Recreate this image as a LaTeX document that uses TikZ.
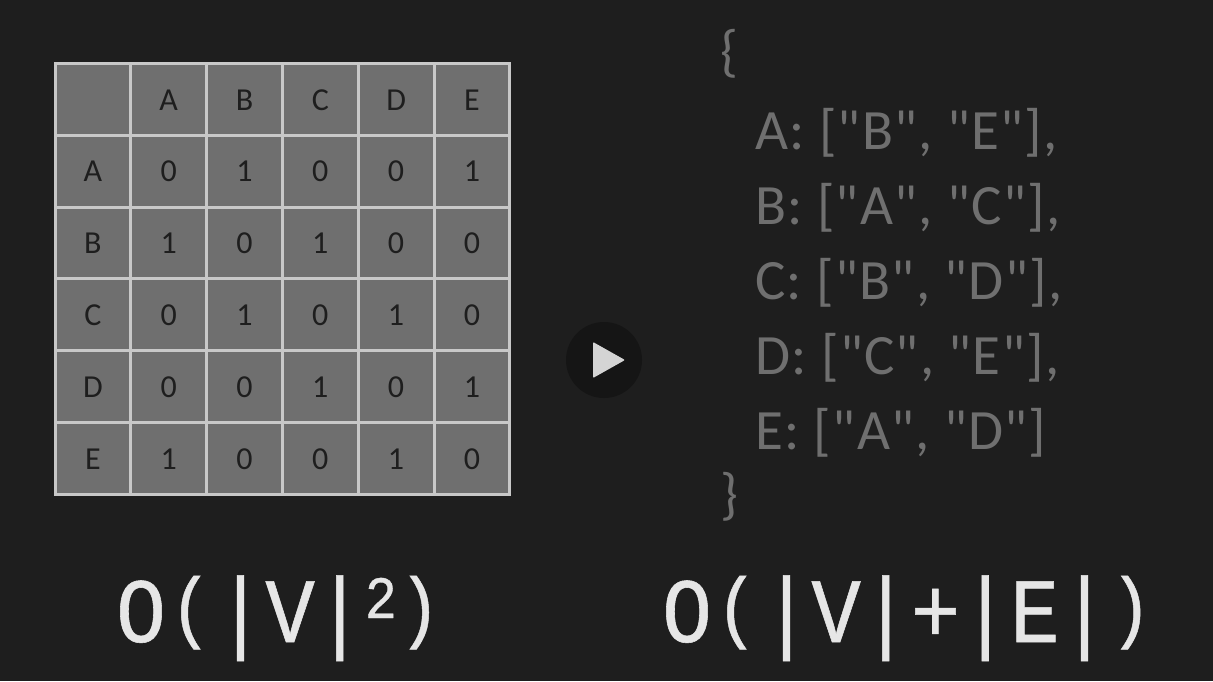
\documentclass[tikz,border=0pt]{standalone}
\usepackage{fontspec}
\setmainfont{Carlito}
\newfontfamily\listfam[LetterSpace=2.4]{Carlito}
\newfontfamily\bigomono[FakeStretch=0.9,FakeBold=0.6]{Liberation Mono}
\usetikzlibrary{positioning}
\definecolor{bgdark}{HTML}{1E1E1E}
\definecolor{cellgray}{HTML}{6F6F6F}
\definecolor{gridgray}{HTML}{C8C8C8}
\definecolor{bigowhite}{HTML}{E6E6E6}
\definecolor{btndark}{HTML}{151515}
\definecolor{btntri}{HTML}{D4D4D4}
\newcommand{\tblfont}{\fontsize{32}{32}\selectfont}
\newcommand{\listfont}{\fontsize{57}{57}\listfam\selectfont}
\newcommand{\bigofont}{\fontsize{92}{92}\bigomono\selectfont}
\newcommand{\bigoparen}[1]{\makebox[49.7pt]{\fontsize{79}{79}\selectfont\raisebox{9pt}{#1}}}
\begin{document}
\begin{tikzpicture}[
    x=1pt, y=-1pt,
    cell/.style={rectangle, draw=gridgray, fill=cellgray, line width=3pt, minimum width=75.8pt, minimum height=71.85pt, inner sep=0pt, text=bgdark, text height=21.5pt, text depth=0pt, font=\tblfont},
    listline/.style={anchor=base west, inner sep=0pt, text=cellgray, font=\listfont},
    bigo/.style={anchor=base west, inner sep=0pt, text=bigowhite, font=\bigofont}
]
    \useasboundingbox (0,0) rectangle (1213,681);
    \fill[bgdark] (0,0) rectangle (1213,681);

    % Table
    \foreach \txt [count=\k from 0] in {{},A,B,C,D,E,
                                        A,0,1,0,0,1,
                                        B,1,0,1,0,0,
                                        C,0,1,0,1,0,
                                        D,0,0,1,0,1,
                                        E,1,0,0,1,0} {
        \pgfmathtruncatemacro{\rw}{int(\k/6)}
        \pgfmathtruncatemacro{\cl}{\k-6*\rw}
        \node[cell] (cell-\rw-\cl) at ({92.9+75.8*\cl},{99.3+71.85*\rw}) {\txt};
    }

    % Play button
    \node[circle, fill=btndark, minimum size=76pt, inner sep=0pt] (playbtn) at (604,360) {};
    \fill[btntri, rounded corners=1pt] ([shift={(-11,-18)}]playbtn.center) -- ([shift={(21,0)}]playbtn.center) -- ([shift={(-11,18)}]playbtn.center) -- cycle;

    % Adjacency list
    \node[listline] (open) at (720,70) {\{};
    \node[listline] (lineA) at (755,149) {A: ["B", "E"],};
    \node[listline] (lineB) at (755,224) {B: ["A", "C"],};
    \node[listline] (lineC) at (755,299) {C: ["B", "D"],};
    \node[listline] (lineD) at (755,374) {D: ["C", "E"],};
    \node[listline] (lineE) at (755,449) {E: ["A", "D"]};
    \node[listline] (close) at (720,513) {\}};

    % Complexities
    \node[bigo] (omatrix) at (116,642) {O\bigoparen{(}|V|\raisebox{24pt}{\fontsize{60}{60}\selectfont 2}\hspace{-2.5pt}\bigoparen{)}};
    \node[bigo] (olist) at (662,642) {O\bigoparen{(}|V|+|E|\hspace{-3.5pt}\bigoparen{)}};
\end{tikzpicture}
\end{document}
